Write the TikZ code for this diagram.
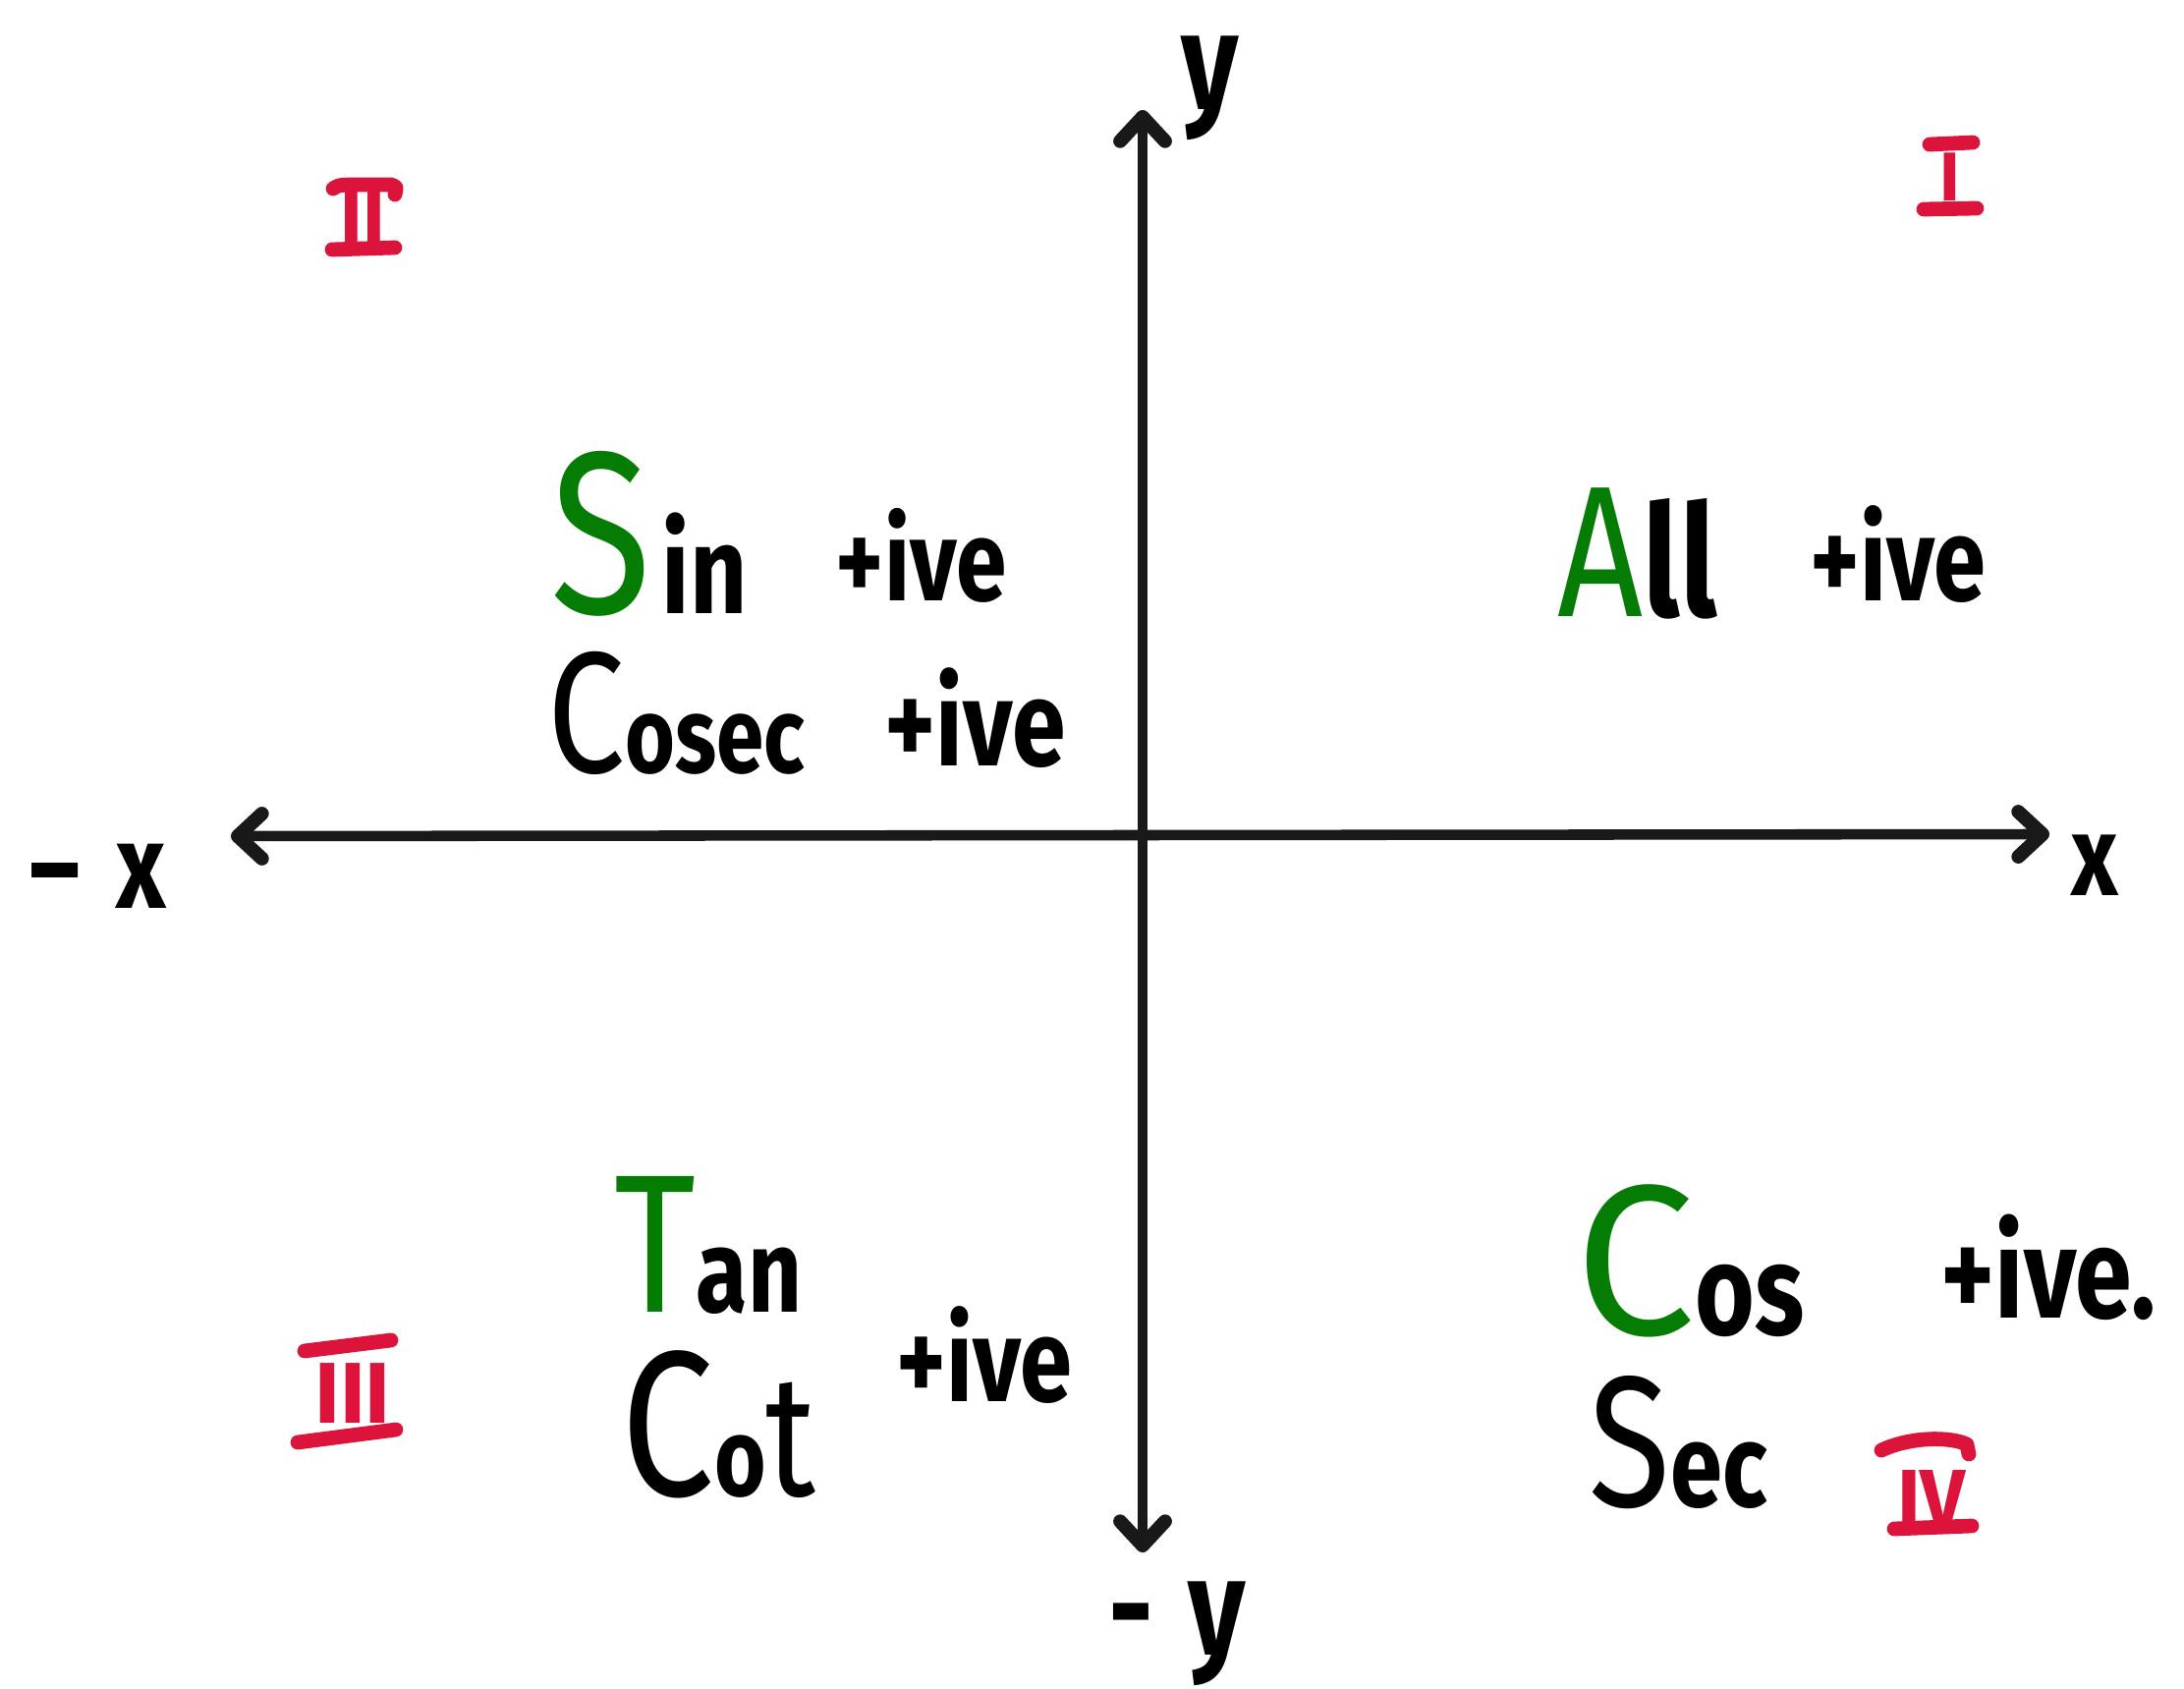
\documentclass[tikz,border=0pt]{standalone}
\usepackage{fontspec}
\setmainfont{Fira Sans}[FakeStretch=0.8]
\newfontfamily\romfont{Fira Sans}
\usetikzlibrary{arrows.meta}
\definecolor{hgreen}{RGB}{5,125,5}
\definecolor{numred}{RGB}{220,20,60}
\newcommand{\fsz}[1]{\fontsize{#1}{#1}\selectfont}
\newcommand{\gr}[2]{\textcolor{hgreen}{\fsz{#1}#2}}
\begin{document}
\begin{tikzpicture}[x=0.01cm,y=-0.01cm,
  lbl/.style={anchor=base west, inner sep=0pt},
  plusive/.style={lbl, font=\bfseries},
  axlbl/.style={inner sep=0pt, font=\fsz{40}\bfseries},
  axis/.style={line width=3pt, draw=black!90,
    {Straight Barb[length=7pt,width=13pt,line width=4pt,round]}-{Straight Barb[length=7pt,width=13pt,line width=4pt,round]}},
  roman/.style={text=numred, font=\romfont\fsz{22}\bfseries, inner sep=0pt},
  rbar/.style={draw=numred, line width=4.2pt, line cap=round, line join=round}]
\fill[white] (0,0) rectangle (2223,1719);
\useasboundingbox (0,0) rectangle (2223,1719);

% axes
\coordinate (xl) at (235,851);
\coordinate (xr) at (2086,849);
\coordinate (yt) at (1163,112);
\coordinate (yb) at (1163,1580);
\draw[axis] (xl) -- (xr);
\draw[axis] (yb) -- (yt);

% axis labels
\node[axlbl, anchor=base] (ylab) at (1232,112) {y};
\node[axlbl, anchor=base] (mylab) at (1198,1684) {-\hspace{0.25em}y};
\node[axlbl, anchor=base west, font=\fsz{35}\bfseries] (mxlab) at (30,925) {–\hspace{0.3em}x};
\node[axlbl, anchor=base west, font=\fsz{33}\bfseries] (xlab) at (2108,912) {x};

% quadrant II
\node[lbl] (sin) at (560,625) {\gr{67}{S}\hspace{3pt}\fsz{36}\bfseries in};
\node[plusive, font=\fsz{33}\bfseries] (p1) at (850,612) {+ive};
\node[lbl] (cosec) at (557,787) {\fsz{50}C\fsz{31}\bfseries osec};
\node[plusive, font=\fsz{35}\bfseries] (p2) at (900,780) {+ive};

% quadrant I
\node[lbl] (all) at (1585,628) {\gr{54}{A}\fsz{45}\bfseries ll};
\node[plusive, font=\fsz{34}\bfseries] (p3) at (1842,612) {+ive};

% quadrant III
\node[lbl] (tan) at (625,1335) {\gr{57}{T}\fsz{34}\bfseries an};
\node[lbl] (cot) at (632,1522) {\fsz{60}C{\fsz{32}\bfseries o}\fsz{50}t};
\node[plusive, font=\fsz{34}\bfseries] (p4) at (912,1426) {+ive};

% quadrant IV
\node[lbl] (cos) at (1603,1358) {\gr{62}{\addfontfeature{FakeStretch=1}C}\fsz{37}\bfseries os};
\node[plusive, font=\fsz{37}\bfseries] (p5) at (1975,1342) {+ive.};
\node[lbl] (sec) at (1617,1533) {\fsz{54}S\fsz{34}\bfseries ec};

% roman numerals
\node[roman, font=\romfont\fsz{20}\bfseries] (n1) at (1985,180) {I};
\draw[rbar] (1964,147) -- (2008,145);
\draw[rbar] (1958,213) -- (2012,212);

\node[roman] (n2) at (369,222) {II};
\draw[rbar] (339,192) .. controls (345,188) .. (372,188) -- (398,188) .. controls (404,190) .. (402,198);
\draw[rbar] (338,254) -- (402,252);

\node[roman, font=\romfont\fsz{25}\bfseries] (n3) at (359,1418) {III};
\draw[rbar] (310,1375) -- (398,1364);
\draw[rbar] (303,1468) -- (403,1455);

\node[roman, font=\romfont\fsz{23}\bfseries] (n4) at (1966,1524) {IV};
\draw[rbar] (1915,1476) .. controls (1945,1462) and (1985,1462) .. (2002,1470) -- (2004,1480);
\draw[rbar] (1928,1556) -- (2007,1553);
\end{tikzpicture}
\end{document}
